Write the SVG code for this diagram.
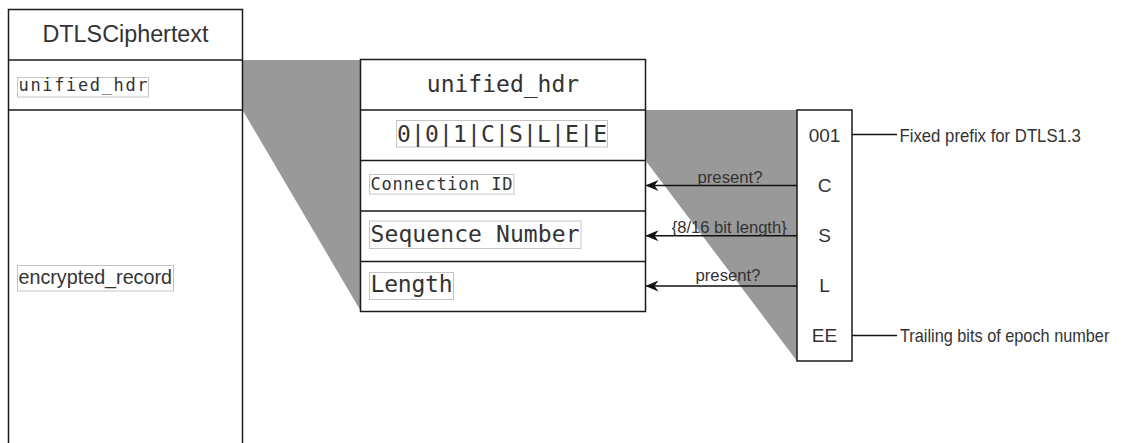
<svg xmlns="http://www.w3.org/2000/svg" width="1123" height="443" viewBox="0 0 1123 443">
  <style>
    .box { fill: #ffffff; stroke: #1a1a1a; stroke-width: 1.5; }
    .div { stroke: #1a1a1a; stroke-width: 1.5; fill: none; }
    .shade { fill: #999999; stroke: none; }
    .sans { font-family: "Liberation Sans", Arial, sans-serif; fill: #333333; }
    .mono { font-family: "DejaVu Sans Mono", "Liberation Mono", monospace; fill: #333333; }
    .tag { fill: none; stroke: #c4c4c4; stroke-width: 1; }
    .wire { stroke: #111111; stroke-width: 1.5; fill: none; }
  </style>
  <defs>
    <marker id="arrow" viewBox="0 0 13 11" refX="12" refY="5.5" markerWidth="13" markerHeight="11" markerUnits="userSpaceOnUse" orient="auto">
      <path d="M0,0 L13,5.5 L0,11 L4,5.5 Z" fill="#111111"/>
    </marker>
  </defs>

  <rect width="1123" height="443" fill="#ffffff"/>

  <!-- zoom wedges linking a field to its expansion -->
  <polygon class="shade" points="242.5,60 361,60 361,311.5 242.5,110"/>
  <polygon class="shade" points="645.5,110 797,110 797,361 645.5,160.5"/>

  <!-- outer record -->
  <g id="dtls-ciphertext">
    <rect class="box" x="8.5" y="9.5" width="234" height="450"/>
    <line class="div" x1="8.5" y1="60" x2="242.5" y2="60"/>
    <line class="div" x1="8.5" y1="110" x2="242.5" y2="110"/>
    <text class="sans" x="125.5" y="42" font-size="23" text-anchor="middle" textLength="166" lengthAdjust="spacingAndGlyphs">DTLSCiphertext</text>
    <rect class="tag" x="17.5" y="77.5" width="131" height="19.5"/>
    <text class="mono" x="18.5" y="91" font-size="17" textLength="129" lengthAdjust="spacing">unified_hdr</text>
    <rect class="tag" x="17.5" y="265.5" width="156" height="25.5"/>
    <text class="sans" x="18.5" y="284.3" font-size="21" textLength="153.5" lengthAdjust="spacingAndGlyphs">encrypted_record</text>
  </g>

  <!-- unified header layout -->
  <g id="unified-hdr">
    <rect class="box" x="360.5" y="59.5" width="285" height="252"/>
    <line class="div" x1="360.5" y1="110" x2="645.5" y2="110"/>
    <line class="div" x1="360.5" y1="160.5" x2="645.5" y2="160.5"/>
    <line class="div" x1="360.5" y1="211" x2="645.5" y2="211"/>
    <line class="div" x1="360.5" y1="261.5" x2="645.5" y2="261.5"/>
    <text class="mono" x="503" y="92" font-size="23" text-anchor="middle">unified_hdr</text>
    <rect class="tag" x="396.5" y="120.5" width="211" height="26.5"/>
    <text class="mono" x="397" y="141.7" font-size="23" textLength="210" lengthAdjust="spacing">0|0|1|C|S|L|E|E</text>
    <rect class="tag" x="369.5" y="174.5" width="144.5" height="19.5"/>
    <text class="mono" x="370.5" y="189.8" font-size="17" textLength="142" lengthAdjust="spacing">Connection ID</text>
    <rect class="tag" x="369.5" y="221" width="211.5" height="27.5"/>
    <text class="mono" x="370.5" y="241.7" font-size="23" textLength="209" lengthAdjust="spacing">Sequence Number</text>
    <rect class="tag" x="369.5" y="272.5" width="84" height="27"/>
    <text class="mono" x="370.5" y="291.7" font-size="23" textLength="82" lengthAdjust="spacing">Length</text>
  </g>

  <!-- flag bits of the first byte -->
  <g id="flag-bits">
    <rect class="box" x="797" y="110" width="55" height="251"/>
    <text class="sans" x="824.5" y="141.7" font-size="19" text-anchor="middle">001</text>
    <text class="sans" x="824.5" y="191.6" font-size="19" text-anchor="middle">C</text>
    <text class="sans" x="824.5" y="241.6" font-size="19" text-anchor="middle">S</text>
    <text class="sans" x="824.5" y="291.7" font-size="19" text-anchor="middle">L</text>
    <text class="sans" x="824.5" y="341.6" font-size="19" text-anchor="middle">EE</text>
  </g>

  <!-- side notes, set in a slightly condensed face -->
  <g id="note-prefix">
    <text class="sans" font-size="18" transform="translate(899.5,141.5) scale(0.93,1)">Fixed prefix for DTLS1.3</text>
  </g>
  <g id="note-epoch">
    <text class="sans" font-size="18" transform="translate(900,342) scale(0.905,1)">Trailing bits of epoch number</text>
  </g>

  <!-- connectors -->
  <g id="connectors">
    <line class="wire" x1="797" y1="185.5" x2="646.5" y2="185.5" marker-end="url(#arrow)"/>
    <line class="wire" x1="797" y1="235.7" x2="646.5" y2="235.7" marker-end="url(#arrow)"/>
    <line class="wire" x1="797" y1="286" x2="646.5" y2="286" marker-end="url(#arrow)"/>
    <line class="wire" x1="852" y1="134.5" x2="897" y2="134.5"/>
    <line class="wire" x1="852" y1="335.5" x2="897" y2="335.5"/>
    <text class="sans" x="730" y="182.5" font-size="17" text-anchor="middle" textLength="65" lengthAdjust="spacingAndGlyphs">present?</text>
    <text class="sans" x="729.2" y="233" font-size="17" text-anchor="middle" textLength="115" lengthAdjust="spacingAndGlyphs">{8/16 bit length}</text>
    <text class="sans" x="728" y="281" font-size="17" text-anchor="middle" textLength="65" lengthAdjust="spacingAndGlyphs">present?</text>
  </g>
</svg>
